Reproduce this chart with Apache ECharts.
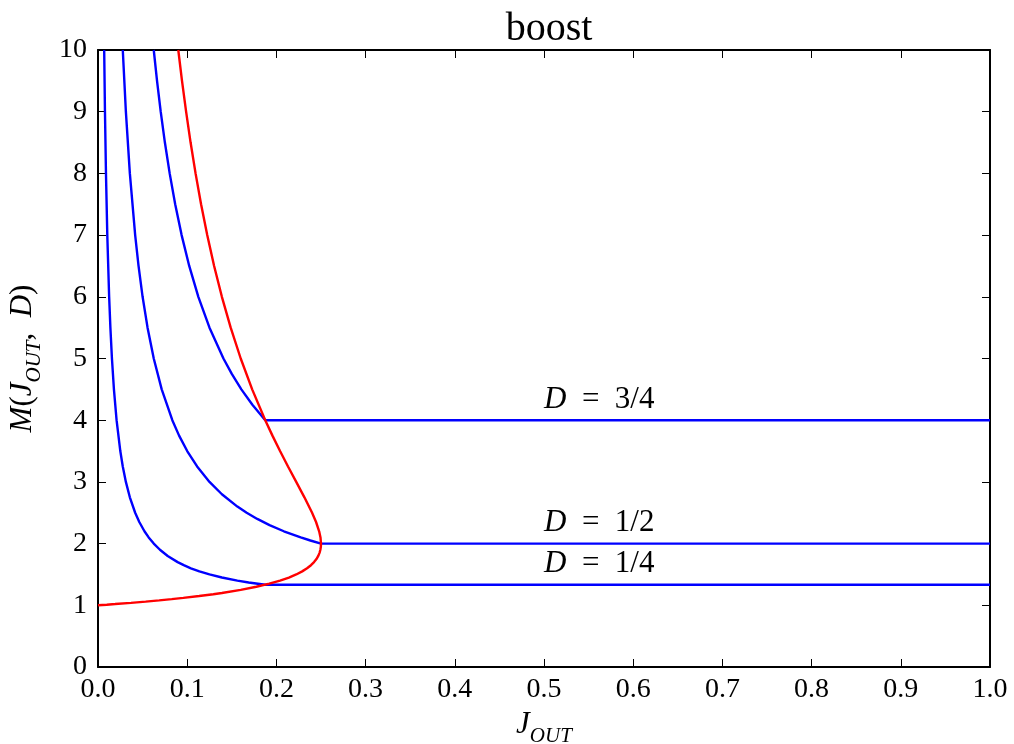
<!DOCTYPE html>
<html>
<head>
<meta charset="utf-8">
<script src="https://cdn.jsdelivr.net/npm/echarts@6/dist/echarts.min.js"></script>
<style>html,body{margin:0;padding:0;background:#fff}#c{width:1014px;height:744px}</style>
</head>
<body>
<div id="c"></div>
<script>
// Values: [J_OUT, M]
const curveD14 = [[0.00694,10],[0.00781,9],[0.00893,8],[0.01042,7],[0.0125,6],[0.01389,5.5],[0.01563,5],[0.01786,4.5],[0.02083,4],[0.025,3.5],[0.02778,3.25],[0.03125,3],[0.03571,2.75],[0.04167,2.5],[0.0463,2.35],[0.05208,2.2],[0.05682,2.1],[0.0625,2],[0.06944,1.9],[0.07813,1.8],[0.08929,1.7],[0.09615,1.65],[0.10417,1.6],[0.11364,1.55],[0.125,1.5],[0.13889,1.45],[0.15625,1.4],[0.16892,1.37],[0.1875,1.3333],[1.0,1.3333]];
const curveD12 = [[0.02778,10],[0.03125,9],[0.03571,8],[0.04167,7],[0.04545,6.5],[0.05,6],[0.05556,5.5],[0.0625,5],[0.07143,4.5],[0.08333,4],[0.09091,3.75],[0.1,3.5],[0.11111,3.25],[0.125,3],[0.13889,2.8],[0.15625,2.6],[0.16667,2.5],[0.17857,2.4],[0.19231,2.3],[0.20833,2.2],[0.22727,2.1],[0.2381,2.05],[0.25,2],[1.0,2]];
const curveD34 = [[0.0625,10],[0.06618,9.5],[0.07031,9],[0.075,8.5],[0.08036,8],[0.08654,7.5],[0.09375,7],[0.10227,6.5],[0.1125,6],[0.125,5.5],[0.14063,5],[0.15,4.75],[0.16071,4.5],[0.17308,4.25],[0.1875,4],[1.0,4]];
const boundary = [[0,1],[0.0098,1.01],[0.01922,1.02],[0.03698,1.04],[0.0534,1.06],[0.06859,1.08],[0.08264,1.1],[0.09566,1.12],[0.11342,1.15],[0.12927,1.18],[0.13889,1.2],[0.16,1.25],[0.17751,1.3],[0.19204,1.35],[0.20408,1.4],[0.21403,1.45],[0.22222,1.5],[0.22893,1.55],[0.23438,1.6],[0.23875,1.65],[0.24221,1.7],[0.2449,1.75],[0.24691,1.8],[0.24836,1.85],[0.24931,1.9],[0.24984,1.95],[0.25,2],[0.24943,2.1],[0.24793,2.2],[0.24445,2.35],[0.24,2.5],[0.2314,2.75],[0.22222,3],[0.21302,3.25],[0.20408,3.5],[0.19556,3.75],[0.1875,4],[0.17284,4.5],[0.16,5],[0.14876,5.5],[0.13889,6],[0.13018,6.5],[0.12245,7],[0.11556,7.5],[0.10938,8],[0.10381,8.5],[0.09877,9],[0.09418,9.5],[0.09,10]];
const labels = [{x:0.5,y:4,frac:'3/4'},{x:0.5,y:2,frac:'1/2'},{x:0.5,y:1.3333,frac:'1/4'}];

const FONT = 'Liberation Serif';
const chart = echarts.init(document.getElementById('c'), null, {renderer:'canvas'});
const axisBase = {
  axisLine:{show:true,onZero:false,lineStyle:{color:'#000',width:2}},
  axisTick:{show:true,inside:true,length:8,lineStyle:{color:'#000',width:1}},
  splitLine:{show:false}
};
const line = (data,color)=>({type:'line',data,showSymbol:false,symbol:'none',smooth:false,lineStyle:{color,width:2.4},animation:false,z:3});
const sub = {fontFamily:FONT,fontStyle:'italic',fontSize:21,color:'#000',verticalAlign:'bottom',padding:[0,0,-7,0]};
chart.setOption({
  animation:false,
  title:{text:'boost',left:544,textAlign:'center',top:4,textStyle:{fontFamily:FONT,fontWeight:'normal',fontSize:40,color:'#000'}},
  grid:{left:98,right:24,top:50,bottom:77,containLabel:false,outerBoundsMode:'none'},
  xAxis:[
    Object.assign({type:'value',min:0,max:1,interval:0.1,position:'bottom',
      axisLabel:{margin:9,fontFamily:FONT,fontSize:28,color:'#000',formatter:v=>v.toFixed(1)},
      name:'{i|J}{s|OUT}',nameLocation:'middle',nameGap:40,
      nameTextStyle:{rich:{i:{fontFamily:FONT,fontStyle:'italic',fontSize:31,color:'#000',verticalAlign:'bottom'},s:sub}}
    },axisBase),
    Object.assign({type:'value',min:0,max:1,interval:0.1,position:'top',axisLabel:{show:false}},axisBase)
  ],
  yAxis:[
    Object.assign({type:'value',min:0,max:10,interval:1,position:'left',
      axisLabel:{margin:11,fontFamily:FONT,fontSize:28,color:'#000'},
      name:'{i|M}{n|(}{i|J}{s|OUT}{n|,  }{i|D}{n|)}',nameLocation:'middle',nameGap:60,nameRotate:90,
      nameTextStyle:{rich:{
        i:{fontFamily:FONT,fontStyle:'italic',fontSize:31,color:'#000',verticalAlign:'bottom'},
        n:{fontFamily:FONT,fontSize:31,color:'#000',verticalAlign:'bottom'},
        s:sub}}
    },axisBase),
    Object.assign({type:'value',min:0,max:10,interval:1,position:'right',axisLabel:{show:false}},axisBase)
  ],
  series:[
    line(curveD14,'#0000ff'),
    line(curveD12,'#0000ff'),
    line(curveD34,'#0000ff'),
    line(boundary,'#ff0000'),
    {type:'scatter',symbolSize:0,animation:false,z:5,itemStyle:{opacity:1},
     data:labels.map(l=>({value:[l.x,l.y],frac:l.frac})),
     label:{show:true,position:[0,0],align:'left',verticalAlign:'bottom',offset:[0,-5],color:'#000',
       formatter:p=>'{i|D}{n|  =  '+p.data.frac+'}',
       rich:{i:{fontFamily:FONT,fontStyle:'italic',fontSize:31,color:'#000'},n:{fontFamily:FONT,fontSize:31,color:'#000'}}}}
  ]
});
</script>
</body>
</html>
